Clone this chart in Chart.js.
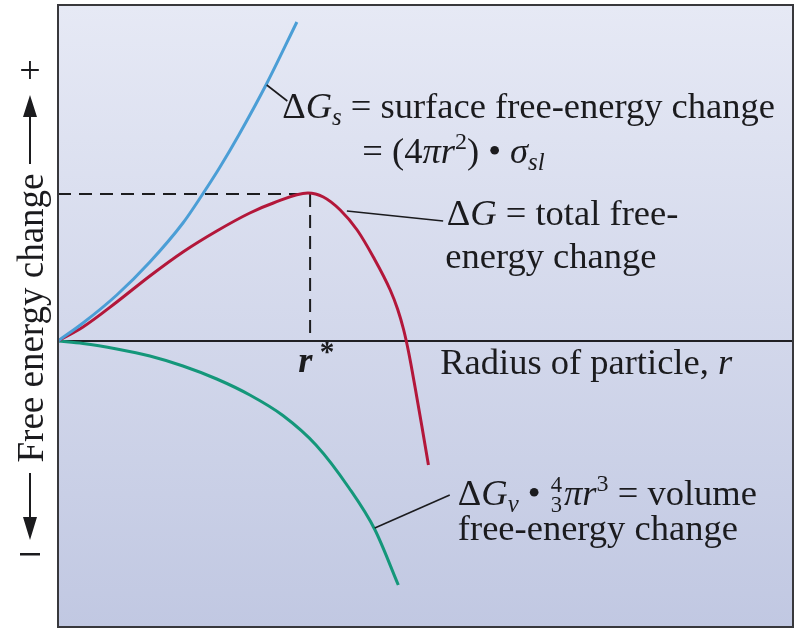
<!DOCTYPE html>
<html>
<head>
<meta charset="utf-8">
<title>Nucleation free energy</title>
<script src="https://cdn.jsdelivr.net/npm/chart.js@4.4.1/dist/chart.umd.min.js"></script>
<style>
  html, body { margin: 0; padding: 0; background: #fff; }
  #wrap { position: relative; width: 798px; height: 629px; }
</style>
</head>
<body>
<div id="wrap"><canvas id="chart"></canvas></div>
<script>
// particle radius (arbitrary units) and free-energy change for each curve
const surfaceR = [0, 0.34, 0.80, 1.25, 1.70, 1.96, 2.20, 2.46, 2.84, 3.25];
const surfaceG = [0, 0.36, 0.92, 1.58, 2.36, 2.92, 3.47, 4.12, 5.15, 6.38];

const totalR = [0, 0.34, 0.80, 1.25, 1.70, 2.16, 2.61, 2.93, 3.40, 3.61, 3.84, 4.07, 4.29, 4.52, 4.62, 4.70, 4.77, 4.86, 4.95, 5.04];
const totalG = [0, 0.28, 0.78, 1.30, 1.78, 2.20, 2.56, 2.76, 2.96, 2.88, 2.62, 2.22, 1.68, 1.02, 0.64, 0.24, -0.22, -0.94, -1.70, -2.48];

const volumeR = [0, 0.34, 0.80, 1.25, 1.70, 2.16, 2.61, 3.06, 3.51, 3.96, 4.31, 4.63];
const volumeG = [0, -0.05, -0.16, -0.30, -0.50, -0.76, -1.08, -1.49, -2.08, -2.94, -3.77, -4.88];

// critical radius r* and the barrier height
const criticalR = 3.43;
const criticalG = 2.94;

const X_MIN = 0, X_MAX = 10;
const Y_MIN = -5.72, Y_MAX = 6.72;

const SERIF = '"Liberation Serif", "Times New Roman", serif';
const INK = '#1b1b1e';
const FS = 36.5;

const pts = (xs, ys) => xs.map((x, i) => ({ x, y: ys[i] }));

// labels: anchor (left, baseline) in data units, rich-text runs
const LABELS = [
  { r: 3.05, g: 4.46, runs: [{ t: 'Δ' }, { t: 'G', s: 'italic' }, { t: 's', s: 'italic', k: 0.68, dy: 0.18 }, { t: ' = surface free-energy change' }] },
  { r: 4.14, g: 3.56, runs: [{ t: '= (4' }, { t: 'πr', s: 'italic' }, { t: '2', k: 0.66, dy: -0.38 }, { t: ') • ' }, { t: 'σ', s: 'italic' }, { t: 'sl', s: 'italic', k: 0.68, dy: 0.18 }] },
  { r: 5.29, g: 2.32, runs: [{ t: 'Δ' }, { t: 'G', s: 'italic' }, { t: ' = total free-' }] },
  { r: 5.27, g: 1.46, runs: [{ t: 'energy change' }] },
  { r: 5.20, g: -0.66, runs: [{ t: 'Radius of particle, ' }, { t: 'r', s: 'italic' }] },
  { r: 3.27, g: -0.62, runs: [{ t: 'r', s: 'italic bold' }, { t: ' *', s: 'bold', k: 0.8, dy: -0.3 }] },
  { r: 5.44, g: -3.28, runs: [{ t: 'Δ' }, { t: 'G', s: 'italic' }, { t: 'v', s: 'italic', k: 0.68, dy: 0.18 }, { t: ' • ' }, { frac: ['4', '3'] }, { t: 'πr', s: 'italic' }, { t: '3', k: 0.66, dy: -0.38 }, { t: ' = volume' }] },
  { r: 5.44, g: -3.98, runs: [{ t: 'free-energy change' }] },
];

// leader lines from the curves to their labels
const LEADERS = [
  [[2.84, 5.12], [3.12, 4.80]],
  [[3.93, 2.60], [5.24, 2.40]],
  [[4.31, -3.74], [5.33, -3.08]],
];

function drawRuns(ctx, x, y, runs) {
  runs.forEach((run) => {
    if (run.frac) {
      const s = FS * 0.62;
      ctx.font = `${s}px ${SERIF}`;
      const w = Math.max(ctx.measureText(run.frac[0]).width, ctx.measureText(run.frac[1]).width);
      ctx.textAlign = 'center';
      ctx.fillText(run.frac[0], x + w / 2 + 1, y - FS * 0.36);
      ctx.fillText(run.frac[1], x + w / 2 + 1, y + FS * 0.2);
      ctx.textAlign = 'left';
      x += w + 3;
      return;
    }
    const s = FS * (run.k || 1);
    ctx.font = `${run.s || ''} ${s}px ${SERIF}`;
    ctx.fillText(run.t, x, y + (run.dy || 0) * FS);
    x += ctx.measureText(run.t).width;
  });
}

const backdrop = {
  id: 'backdrop',
  beforeDatasetsDraw(chart) {
    const { ctx, chartArea: a, scales: { y } } = chart;
    ctx.save();
    const grad = ctx.createLinearGradient(0, a.top, 0, a.bottom);
    grad.addColorStop(0, '#e6e9f5');
    grad.addColorStop(1, '#c1c8e2');
    ctx.fillStyle = grad;
    ctx.fillRect(a.left, a.top, a.right - a.left, a.bottom - a.top);
    // zero line = radius axis
    const y0 = y.getPixelForValue(0);
    ctx.strokeStyle = '#202024';
    ctx.lineWidth = 2;
    ctx.beginPath();
    ctx.moveTo(a.left, y0);
    ctx.lineTo(a.right, y0);
    ctx.stroke();
    ctx.restore();
  },
  afterDraw(chart) {
    const { ctx, chartArea: a, scales: { x, y } } = chart;
    ctx.save();
    ctx.strokeStyle = '#38383c';
    ctx.lineWidth = 2;
    ctx.strokeRect(a.left, a.top, a.right - a.left, a.bottom - a.top);

    // leaders
    ctx.strokeStyle = INK;
    ctx.lineWidth = 1.6;
    LEADERS.forEach(([p, q]) => {
      ctx.beginPath();
      ctx.moveTo(x.getPixelForValue(p[0]), y.getPixelForValue(p[1]));
      ctx.lineTo(x.getPixelForValue(q[0]), y.getPixelForValue(q[1]));
      ctx.stroke();
    });

    ctx.fillStyle = INK;
    ctx.textBaseline = 'alphabetic';
    ctx.textAlign = 'left';
    LABELS.forEach((l) => drawRuns(ctx, x.getPixelForValue(l.r), y.getPixelForValue(l.g), l.runs));

    // vertical axis title with direction arrows
    const cx = 30;
    const cy = (a.top + a.bottom) / 2 + 2;
    ctx.save();
    ctx.translate(cx + 13, cy);
    ctx.rotate(-Math.PI / 2);
    ctx.textAlign = 'center';
    ctx.font = `37px ${SERIF}`;
    ctx.fillText('Free energy change', 0, 0);
    ctx.restore();

    ctx.lineWidth = 2;
    ctx.beginPath();
    ctx.moveTo(cx, cy - 154); ctx.lineTo(cx, cy - 205);
    ctx.moveTo(cx, cy + 155); ctx.lineTo(cx, cy + 202);
    ctx.stroke();
    ctx.beginPath();
    ctx.moveTo(cx, cy - 223); ctx.lineTo(cx - 7, cy - 201); ctx.lineTo(cx + 7, cy - 201); ctx.closePath();
    ctx.moveTo(cx, cy + 222); ctx.lineTo(cx - 7, cy + 199); ctx.lineTo(cx + 7, cy + 199); ctx.closePath();
    ctx.fill();
    ctx.textAlign = 'center';
    ctx.textBaseline = 'middle';
    ctx.font = `38px ${SERIF}`;
    ctx.fillText('+', cx, cy - 245);
    ctx.fillRect(cx - 10, cy + 235, 20, 2.5);
    ctx.restore();
  },
};

new Chart(document.getElementById('chart'), {
  type: 'line',
  data: {
    datasets: [
      { label: 'ΔGs', data: pts(surfaceR, surfaceG), borderColor: '#4b9ed6', borderWidth: 3 },
      { label: 'ΔG', data: pts(totalR, totalG), borderColor: '#b3173a', borderWidth: 3 },
      { label: 'ΔGv', data: pts(volumeR, volumeG), borderColor: '#14977a', borderWidth: 3 },
      {
        label: 'r*',
        data: [{ x: X_MIN, y: criticalG }, { x: criticalR, y: criticalG }, { x: criticalR, y: 0.12 }],
        borderColor: '#1d1d1f', borderWidth: 2, borderDash: [13, 8], cubicInterpolationMode: 'default', tension: 0,
      },
    ],
  },
  options: {
    responsive: true,
    maintainAspectRatio: false,
    animation: false,
    layout: { padding: { left: 58, right: 5, top: 5, bottom: 2 } },
    elements: {
      point: { radius: 0 },
      line: { cubicInterpolationMode: 'monotone', borderCapStyle: 'butt', borderJoinStyle: 'round', fill: false },
    },
    plugins: { legend: { display: false }, tooltip: { enabled: false } },
    scales: {
      x: { type: 'linear', min: X_MIN, max: X_MAX, display: false },
      y: { type: 'linear', min: Y_MIN, max: Y_MAX, display: false },
    },
  },
  plugins: [backdrop],
});
</script>
</body>
</html>
